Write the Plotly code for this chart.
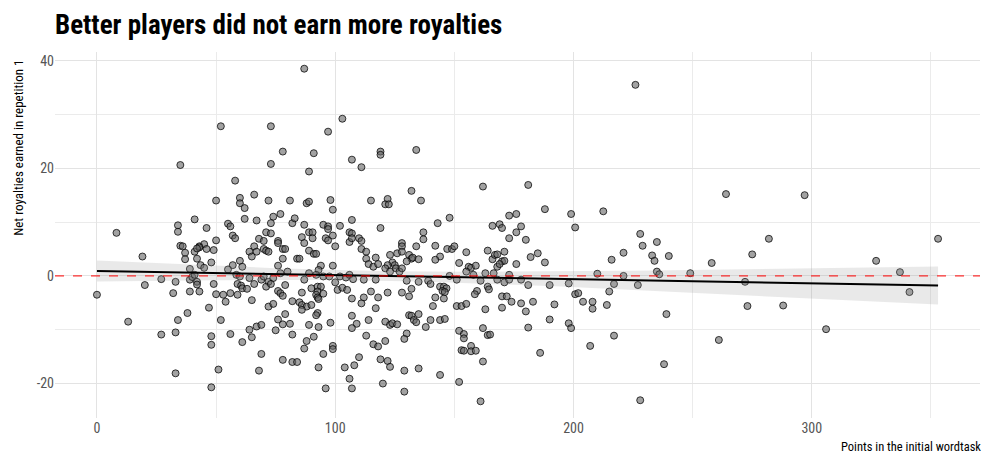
import numpy as np
import plotly.graph_objects as go

# Points in the initial wordtask
points = [
 8.2,19.1,20.1,0,13.1,27,27,33,32,33,34,38,33,34,34,35,36,37,37,41,43,42,39,39,40,41,39,35,41,
 52,73,78,73,58,50,60,60,62,66,72,81,77,74,62,67,73,82,83,55,56,46,
 57,58,50,71,73,68,70,76,76,45,43,42,49,46,66,64,65,67,70,71,72,78,79,78,84,48,43.5,45,
 60,61,57,55,76,80,77,58.5,60,64,69,70,72,74,42,42,49,59,60.5,61,63,66,71,73,79,43,50,53,56,59,54,65,
 76,77,78,82,47,72,74,79,76,78,81,52,67,69,64,65,75,82,56,48,48,61,69,78,82,84,51,68,48,
 87,103,97,91,107,119,119,111,89,88,89,98,99,115,122,121,122.5,87,95,97,102,107,119,
 89,90.5,86,87,90.5,97,96,97,99,106,107,106,107,110,111,100,89,91,92,85,111,113,113,114,116,117,118,
 123,124,122,121,125,94,93,99,89,92,95,97.5,102,104.5,106,107.5,112,117,123,87,100,90,92.6,94,92.6,92,95,
 101,103,105,86,92.6,93,85,86,88,90,86,107,112,111,115,118,122,117,92.6,92,107,89,93,98,109,107,114,121,
 123,124,91,88,87,99,99,113,116,118,121,95,110,108,119,122,123,93,104,106,120,96,107,
 134,132,136,162,143,148,166,169,
 137,137,128,128,126,128,131,132,132.5,130,135,134,142,147,149,150,155,144,142,152,156,157,159,164,166,167,
 125.5,127,128,130,135,139,140,148,151,155,158,161,163,166.5,144,145.6,146.7,145,146,145.6,128,131,132,142,141,
 164,164.5,159.5,158.6,151,153,155,163,131,132,133,134,135,140,144,146,126,138,130,129,152,154,154,162,164,165,
 153,154,157,157,159,162,129,135,144,152,129,161,
 181,173,176,188,199,212.5,170,178,200.7,
 176,173,180,168,171,170,171,168,169,182,185,176,188,173,168,171,173,178,181,190,198,210,170,172,174,170,
 178,183,180,192,200.7,202,204,208,208,190,198,199,181,207,186,
 226,264,297,228,229,235,221,216,233,234,240,235,236,221,217,227,215,214,239,217,238,228,249,258,261,
 275,282,272,273,288,306,327,337,341,353,
]

# Net royalties earned in repetition 1
royalties = [
 8.0,3.6,-1.7,-3.5,-8.5,-0.6,-10.9,-1.1,-3.2,-10.5,-8.2,-6.9,-18.1,9.4,8.2,5.6,5.5,4.3,3.1,4.5,5.5,3.2,1.3,-0.7,-0.2,0.2,-2.9,20.6,10.5,
 27.8,27.8,23.1,20.8,17.7,14.0,14.5,13.5,12.6,15.1,14.0,14.0,11.5,11.0,10.6,10.3,9.8,9.8,10.7,9.7,9.2,8.9,
 7.5,7.0,6.6,8.1,7.9,6.9,6.5,6.5,6.1,5.9,5.3,5.1,4.8,5.0,5.5,4.5,3.6,4.5,5.0,4.7,4.5,5.0,5.0,3.2,3.2,2.5,2.0,1.5,
 2.8,1.7,2.0,1.2,1.9,0.8,0.5,0.2,-0.1,-0.4,-0.7,-0.1,-1.1,-0.4,-1.1,-1.6,-1.5,-1.5,-1.8,-2.3,-2.4,-1.5,-2.0,-1.5,-1.7,-2.9,-3.4,-3.5,-3.2,-3.5,-4.8,-4.5,
 -2.8,-3.2,-3.7,-4.7,-5.9,-5.7,-5.2,-7.1,-8.1,-9.0,-8.9,-8.2,-9.4,-9.1,-10.0,-11.4,-10.1,-10.9,-10.8,-11.2,-12.8,-12.3,-14.5,-15.6,-16.0,-16.0,-17.4,-17.6,-20.7,
 38.5,29.2,26.8,22.8,21.6,23.1,22.5,20.2,19.4,13.5,13.8,14.1,12.3,14.0,14.3,13.3,13.3,9.5,9.5,9.2,9.3,10.4,8.9,
 8.1,8.1,7.2,6.1,7.0,8.7,7.0,6.6,7.5,8.1,7.9,6.3,7.0,7.0,6.5,5.5,4.7,4.1,4.1,3.2,5.0,4.5,3.2,2.2,1.7,3.4,2.2,
 3.9,2.5,2.0,1.4,2.0,1.9,1.1,1.9,0.5,0.2,-0.1,-0.1,-0.1,-0.3,0.2,-0.6,-0.7,-0.7,0.8,-0.7,-1.2,-2.3,-2.0,-2.0,-2.9,-3.5,-3.3,
 -2.6,-2.2,-2.6,-3.1,-4.0,-4.3,-4.9,-5.4,-5.7,-5.4,-6.3,-4.2,-4.0,-5.1,-2.9,-4.0,-3.1,-6.0,-6.9,-7.3,-7.4,-9.1,-9.5,-8.7,-8.9,-9.7,-8.2,-8.5,
 -9.1,-8.8,-11.3,-12.1,-13.5,-13.0,-13.6,-11.1,-12.7,-13.1,-12.1,-14.5,-15.1,-16.6,-15.5,-15.8,-16.9,-17.0,-17.0,-19.1,-20.0,-20.9,-20.9,
 23.4,15.8,14.0,16.6,9.8,10.8,9.3,9.6,
 8.1,6.8,6.1,5.5,4.2,4.5,3.9,3.2,3.4,2.7,3.1,5.5,5.6,5.0,5.0,5.5,4.4,3.6,3.0,2.4,1.7,1.5,1.9,4.7,3.1,3.9,
 1.4,0.8,1.4,-0.9,-1.1,-0.9,-1.5,0.0,-0.7,0.8,0.2,-0.9,0.5,0.5,-2.0,-2.0,-2.3,-2.8,-3.0,-4.2,-3.1,-3.8,-2.4,-4.0,-5.6,
 -2.0,-2.5,-2.8,-3.4,-5.6,-5.6,-5.2,-6.2,-7.3,-7.4,-8.2,-8.6,-7.1,-8.2,-8.2,-8.0,-9.0,-9.5,-10.7,-11.7,-10.2,-10.8,-11.6,-9.7,-11.0,-10.9,
 -13.8,-13.9,-13.0,-14.0,-13.9,-15.9,-17.6,-17.2,-18.4,-19.7,-21.5,-23.3,
 16.9,11.2,11.5,12.4,11.5,12.0,8.9,9.2,9.0,
 8.1,7.0,6.7,4.0,4.5,2.7,2.8,1.7,2.2,3.5,4.2,2.2,2.5,0.2,-0.7,-1.2,-0.7,-0.7,-1.7,-1.7,-1.4,0.4,-3.8,-3.8,-4.8,-5.9,
 -5.1,-4.8,-6.6,-5.3,-3.4,-3.2,-4.8,-4.8,-6.1,-8.1,-8.8,-9.7,-9.6,-13.0,-14.3,
 35.5,15.2,15.0,7.8,5.6,6.3,4.3,3.0,3.8,2.8,3.7,0.8,0.3,0.0,-1.5,-1.7,-2.9,-5.4,-7.1,-11.1,-16.4,-23.1,0.5,2.4,-11.9,
 4.0,6.9,-1.1,-5.6,-5.5,-9.9,2.8,0.7,-3.0,6.9,
]

x_ticks = [0, 100, 200, 300]
y_ticks = [-20, 0, 20, 40]
y_tick_text = ["-20", "0", "20", "40"]

title_text = "Better players did not earn more royalties"
x_title = "Points in the initial wordtask"
y_title = "Net royalties earned in repetition 1"

n = min(len(points), len(royalties))
x = np.array(points[:n], dtype=float)
y = np.array(royalties[:n], dtype=float)

# linear fit with 95% confidence band
b1, b0 = np.polyfit(x, y, 1)
xs = np.linspace(x.min(), x.max(), 100)
yhat = b0 + b1 * xs
resid = y - (b0 + b1 * x)
s = np.sqrt(np.sum(resid**2) / (n - 2))
sxx = np.sum((x - x.mean())**2)
se = s * np.sqrt(1.0 / n + (xs - x.mean())**2 / sxx)
tcrit = 1.966
lo = yhat - tcrit * se
hi = yhat + tcrit * se

FONT = "Liberation Sans Narrow, Roboto Condensed, DejaVu Sans Condensed, Roboto, sans-serif"

fig = go.Figure()
fig.add_trace(go.Scatter(
    x=x, y=y, mode="markers",
    marker=dict(size=7, color="rgba(100,100,100,0.6)",
                line=dict(color="rgba(0,0,0,0.75)", width=1)),
    hoverinfo="skip", showlegend=False))
fig.add_trace(go.Scatter(
    x=np.concatenate([xs, xs[::-1]]), y=np.concatenate([hi, lo[::-1]]),
    fill="toself", fillcolor="rgba(153,153,153,0.22)", line=dict(width=0),
    mode="lines", hoverinfo="skip", showlegend=False))
fig.add_trace(go.Scatter(
    x=xs, y=yhat, mode="lines", line=dict(color="black", width=2),
    hoverinfo="skip", showlegend=False))

fig.add_hline(y=0, line=dict(color="red", width=1, dash="dash"), layer="above")

fig.update_layout(
    width=981, height=454,
    paper_bgcolor="white", plot_bgcolor="white",
    margin=dict(l=55, r=1, t=52, b=36),
    font=dict(family=FONT, color="#4d4d4d"),
    title=dict(text="<b>" + title_text + "</b>", x=55/981, xanchor="left",
               y=1 - 15/454, yanchor="top",
               font=dict(family=FONT, size=27, color="black")),
    xaxis=dict(range=[-17.6, 370.6], tickvals=x_ticks, showline=False, zeroline=False,
               gridcolor="#e3e3e3", gridwidth=1,
               minor=dict(dtick=50, tick0=0, showgrid=True, gridcolor="#ebebeb", gridwidth=0.6),
               tickfont=dict(size=14, color="#555555"), ticks="", automargin=False),
    yaxis=dict(range=[-26.4, 41.6], tickvals=y_ticks, ticktext=y_tick_text,
               showline=False, zeroline=False,
               gridcolor="#e3e3e3", gridwidth=1,
               minor=dict(dtick=10, tick0=0, showgrid=True, gridcolor="#ebebeb", gridwidth=0.6),
               tickfont=dict(size=14, color="#555555"), ticks="", automargin=False),
)

fig.add_annotation(text=x_title, xref="paper", yref="paper", x=1.003, y=-0.077,
                   xanchor="right", yanchor="middle", showarrow=False,
                   font=dict(family=FONT, size=12.5, color="black"))
fig.add_annotation(text=y_title, xref="paper", yref="paper", x=-0.039, y=0.984,
                   xanchor="center", yanchor="top", textangle=-90, showarrow=False,
                   font=dict(family=FONT, size=13, color="black"))

fig.write_html("out.html", config={"displayModeBar": False},
               post_script="document.body.style.margin='0';document.body.style.overflow='hidden';")
